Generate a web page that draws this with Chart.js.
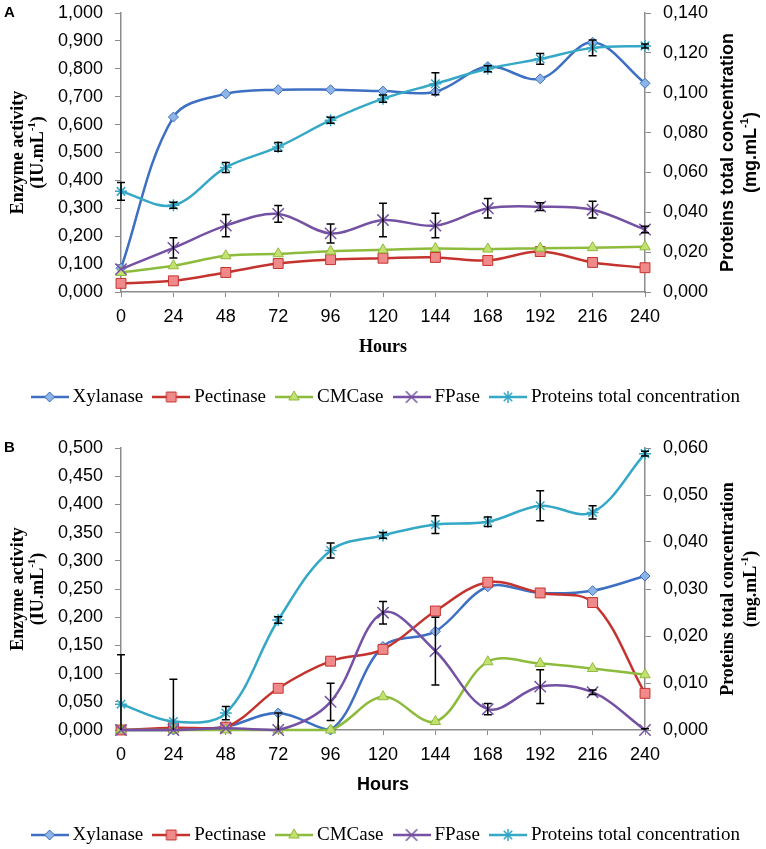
<!DOCTYPE html>
<html>
<head>
<meta charset="utf-8">
<script src="https://cdn.jsdelivr.net/npm/chart.js@4/dist/chart.umd.min.js"></script>
<style>
  html, body { margin: 0; padding: 0; background: #fff; overflow: hidden; }
  #wrapA { position: absolute; left: 0; top: 0; width: 766px; height: 425px; }
  #wrapB { position: absolute; left: 0; top: 425px; width: 766px; height: 432px; }
</style>
</head>
<body>
<div id="wrapA"><canvas id="chartA" width="766" height="425"></canvas></div>
<div id="wrapB"><canvas id="chartB" width="766" height="432"></canvas></div>
<script>
// x categories (hours)
const hours = ['0', '24', '48', '72', '96', '120', '144', '168', '192', '216', '240'];
const seriesNames = ['Xylanase', 'Pectinase', 'CMCase', 'FPase', 'Proteins total concentration'];

// panel A (enzymes in IU/mL on the left axis, proteins in mg/mL on the right axis)
const xylanaseA = [0.085, 0.627, 0.710, 0.725, 0.725, 0.720, 0.718, 0.808, 0.764, 0.895, 0.748];
const pectinaseA = [0.031, 0.040, 0.070, 0.102, 0.116, 0.121, 0.124, 0.113, 0.145, 0.106, 0.087];
const cmcaseA = [0.070, 0.094, 0.130, 0.137, 0.146, 0.151, 0.156, 0.154, 0.157, 0.159, 0.162];
const fpaseA = [0.082, 0.158, 0.238, 0.280, 0.210, 0.258, 0.238, 0.300, 0.306, 0.295, 0.224];
const fpaseErrA = [0, 0.036, 0.040, 0.030, 0.034, 0.060, 0.044, 0.035, 0.014, 0.030, 0.012];
const proteinsA = [0.0505, 0.0435, 0.0625, 0.0728, 0.0862, 0.0970, 0.1045, 0.1120, 0.1170, 0.1225, 0.1235];
const proteinsErrA = [0.0045, 0.0015, 0.0025, 0.0022, 0.0015, 0.0018, 0.0055, 0.0015, 0.0027, 0.0040, 0.0010];

// panel B
const xylanaseB = [0, 0, 0.006, 0.030, 0, 0.148, 0.175, 0.254, 0.243, 0.247, 0.273];
const pectinaseB = [0, 0.004, 0.005, 0.074, 0.122, 0.143, 0.211, 0.262, 0.243, 0.226, 0.065];
const cmcaseB = [0, 0, 0, 0, 0, 0.059, 0.015, 0.121, 0.118, 0.109, 0.098];
const fpaseB = [0, 0, 0.003, 0, 0.050, 0.208, 0.140, 0.037, 0.077, 0.067, 0];
const fpaseErrB = [0, 0, 0, 0.030, 0.033, 0.020, 0.060, 0.010, 0.030, 0.004, 0.002];
const proteinsB = [0.0055, 0.0018, 0.0036, 0.0234, 0.0382, 0.0414, 0.0437, 0.0443, 0.0477, 0.0463, 0.0588];
const proteinsErrB = [0.0105, 0.0090, 0.0014, 0.0007, 0.0016, 0.0006, 0.0019, 0.0010, 0.0032, 0.0014, 0.0005];

// axis titles: [text, superscript, tail] per line
const leftTitle = [['Enzyme activity', '', ''], ['(IU.mL', '-1', ')']];
const rightTitle = [['Proteins total concentration', '', ''], ['(mg.mL', '-1', ')']];

// look of each series (Excel 2007 palette)
const seriesStyle = [
    { line: '#3D6FC2', fill: '#8DB4E6', point: 'rectRot', r: 5 },
    { line: '#C5332F', fill: '#F0898A', point: 'rect', r: 7 },
    { line: '#8DBB3C', fill: '#C4E070', point: 'triangle', r: 6 },
    { line: '#7451A3', fill: '#7451A3', point: 'crossRot', r: 8 },
    { line: '#34A8C6', fill: '#34A8C6', point: 'star', r: 6 }
];

const fmt = v => Number(v).toFixed(3).replace('.', ',');

function buildDatasets(values, errors) {
    return values.map((data, i) => {
        const st = seriesStyle[i];
        return {
            label: seriesNames[i],
            data: data,
            errors: errors[i],
            yAxisID: i === 4 ? 'y1' : 'y',
            borderColor: st.line,
            borderWidth: 2.5,
            pointStyle: st.point,
            pointRadius: st.r,
            pointBackgroundColor: st.fill,
            pointBorderColor: st.line,
            pointBorderWidth: (st.point === 'crossRot' || st.point === 'star') ? 1.5 : 1,
            tension: 0.35,
            fill: false,
            clip: 12,
            order: 4 - i // proteins on top like in Excel
        };
    });
}

// small picture (line + marker) used as legend symbol
function legendIcon(ds) {
    const c = document.createElement('canvas');
    c.width = 38;
    c.height = 18;
    const g = c.getContext('2d');
    g.strokeStyle = ds.borderColor;
    g.lineWidth = 2.5;
    g.beginPath();
    g.moveTo(0, 9);
    g.lineTo(38, 9);
    g.stroke();
    if (Chart.helpers && Chart.helpers.drawPoint) {
        g.fillStyle = ds.pointBackgroundColor;
        g.strokeStyle = ds.pointBorderColor;
        g.lineWidth = ds.pointBorderWidth;
        Chart.helpers.drawPoint(g, { pointStyle: ds.pointStyle, radius: ds.pointRadius, borderWidth: ds.pointBorderWidth, rotation: 0 }, 19, 9);
    }
    return c;
}

// vertical error bars, read from dataset.errors
const errorBarPlugin = {
    id: 'errorBars',
    afterDatasetsDraw(chart) {
        const ctx = chart.ctx;
        const area = chart.chartArea;
        ctx.save();
        ctx.beginPath();
        ctx.rect(area.left - 10, area.top, area.right - area.left + 20, area.bottom - area.top);
        ctx.clip();
        ctx.strokeStyle = '#000';
        ctx.lineWidth = 1.5;
        chart.data.datasets.forEach((ds, di) => {
            if (!ds.errors) return;
            const meta = chart.getDatasetMeta(di);
            const yScale = chart.scales[meta.yAxisID];
            meta.data.forEach((pt, i) => {
                const err = ds.errors[i];
                if (!err) return;
                const yTop = yScale.getPixelForValue(ds.data[i] + err);
                const yBot = yScale.getPixelForValue(ds.data[i] - err);
                ctx.beginPath();
                ctx.moveTo(pt.x, yTop);
                ctx.lineTo(pt.x, yBot);
                ctx.moveTo(pt.x - 4, yTop);
                ctx.lineTo(pt.x + 4, yTop);
                ctx.moveTo(pt.x - 4, yBot);
                ctx.lineTo(pt.x + 4, yBot);
                ctx.stroke();
            });
        });
        ctx.restore();
    }
};

// one rotated title line (reads bottom to top), with a small superscript part
function drawVerticalLine(ctx, parts, x, cy, family) {
    const big = 'bold 18px ' + family;
    const small = 'bold 11px ' + family;
    ctx.font = big;
    const w1 = ctx.measureText(parts[0]).width;
    const w3 = ctx.measureText(parts[2]).width;
    ctx.font = small;
    const w2 = parts[1] ? ctx.measureText(parts[1]).width : 0;
    let pos = -(w1 + w2 + w3) / 2;
    ctx.save();
    ctx.translate(x, cy);
    ctx.rotate(-Math.PI / 2);
    ctx.textAlign = 'left';
    ctx.textBaseline = 'middle';
    ctx.font = big;
    ctx.fillText(parts[0], pos, 0);
    pos += w1;
    if (parts[1]) {
        ctx.font = small;
        ctx.fillText(parts[1], pos, -6);
        pos += w2;
    }
    ctx.font = big;
    ctx.fillText(parts[2], pos, 0);
    ctx.restore();
}

// panel letter and both y axis titles
const sideTextPlugin = {
    id: 'sideText',
    afterDraw(chart, args, opts) {
        const ctx = chart.ctx;
        const area = chart.chartArea;
        const y1 = chart.scales.y1;
        ctx.save();
        ctx.fillStyle = '#000';
        ctx.font = 'bold 15px "Liberation Sans", Arial, sans-serif';
        ctx.textAlign = 'left';
        ctx.textBaseline = 'middle';
        ctx.fillText(opts.letter, 4, area.top);

        const cy = (area.top + area.bottom) / 2;
        leftTitle.forEach((parts, k) => drawVerticalLine(ctx, parts, 18 + k * 20, cy, serifFamily));
        rightTitle.forEach((parts, k) => drawVerticalLine(ctx, parts, y1.left + 83 + k * 23, cy, opts.rightFamily));
        ctx.restore();
    }
};

const axisGrey = '#8C8C8C';
const serifFamily = '"Liberation Serif", "Times New Roman", serif';
const sansFamily = '"Liberation Sans", Arial, sans-serif';
const tickFont = { family: sansFamily, size: 18 };
const serifBold = { family: serifFamily, size: 18, weight: 'bold', lineHeight: 1.1 };
const sansBold = { family: sansFamily, size: 18, weight: 'bold' };

// fixed axis sizes so the plot area sits where it does in the figure
function fixVertical(width) {
    return scale => {
        scale.width = width;
        scale.paddingTop = 0;
        scale.paddingBottom = 0;
    };
}

function makeChart(canvasId, p) {
    const ctx = document.getElementById(canvasId).getContext('2d');
    return new Chart(ctx, {
        type: 'line',
        data: {
            labels: hours,
            datasets: buildDatasets(p.values, p.errors)
        },
        options: {
            responsive: false,
            animation: false,
            layout: { padding: { top: p.padTop, bottom: p.padBottom, left: 10, right: 0 } },
            plugins: {
                legend: {
                    position: 'bottom',
                    labels: {
                        usePointStyle: true,
                        pointStyleWidth: 27,
                        padding: 14.5,
                        color: '#000',
                        font: { family: serifFamily, size: 19 },
                        generateLabels: chart => chart.data.datasets.map((ds, i) => ({
                            text: ds.label,
                            pointStyle: legendIcon(ds),
                            datasetIndex: i,
                            hidden: false,
                            lineWidth: 0,
                            fontColor: '#000'
                        }))
                    }
                },
                tooltip: { enabled: false },
                sideText: { letter: p.letter, rightFamily: p.rightFamily }
            },
            scales: {
                x: {
                    type: 'category',
                    offset: false,
                    border: { color: axisGrey, width: 1.5 },
                    grid: { drawOnChartArea: false, drawTicks: true, tickLength: 5, tickColor: axisGrey, offset: false },
                    ticks: { color: '#000', font: tickFont, padding: 9, autoSkip: false, maxRotation: 0 },
                    title: { display: true, text: 'Hours', color: '#000', font: p.hoursFont, padding: { top: 4, bottom: 15.5 } },
                    afterFit: scale => {
                        scale.height = 81;
                        scale.paddingLeft = 0;
                        scale.paddingRight = 0;
                    }
                },
                y: {
                    position: 'left',
                    min: 0,
                    max: p.leftMax,
                    border: { color: axisGrey, width: 1.5 },
                    grid: { drawOnChartArea: false, tickLength: 6, tickColor: axisGrey },
                    ticks: { stepSize: p.leftStep, color: '#000', font: tickFont, padding: 12, callback: fmt },
                    afterFit: fixVertical(111)
                },
                y1: {
                    position: 'right',
                    min: 0,
                    max: p.rightMax,
                    border: { color: axisGrey, width: 1.5 },
                    grid: { drawOnChartArea: false, tickLength: 6, tickColor: axisGrey },
                    ticks: { stepSize: p.rightStep, color: '#000', font: tickFont, padding: 12, callback: fmt },
                    afterFit: fixVertical(121)
                }
            }
        },
        plugins: [errorBarPlugin, sideTextPlugin]
    });
}

makeChart('chartA', {
    letter: 'A',
    values: [xylanaseA, pectinaseA, cmcaseA, fpaseA, proteinsA],
    errors: [null, null, null, fpaseErrA, proteinsErrA],
    leftMax: 1, leftStep: 0.1,
    rightMax: 0.14, rightStep: 0.02,
    padTop: 13, padBottom: 8.5,
    hoursFont: serifBold,
    rightFamily: sansFamily
});

makeChart('chartB', {
    letter: 'B',
    values: [xylanaseB, pectinaseB, cmcaseB, fpaseB, proteinsB],
    errors: [null, null, null, fpaseErrB, proteinsErrB],
    leftMax: 0.5, leftStep: 0.05,
    rightMax: 0.06, rightStep: 0.01,
    padTop: 23, padBottom: 2.5,
    hoursFont: sansBold,
    rightFamily: serifFamily
});
</script>
</body>
</html>
